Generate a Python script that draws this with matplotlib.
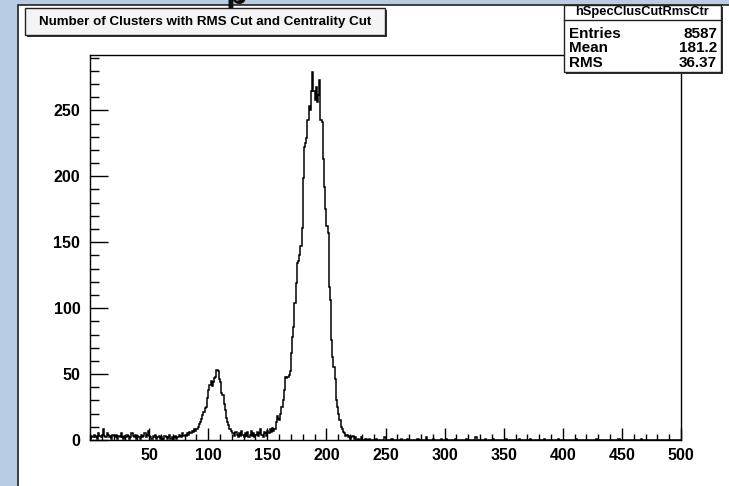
import numpy as np
import matplotlib.pyplot as plt
from matplotlib.patches import Rectangle

plt.rcParams['font.family'] = ['Liberation Sans', 'DejaVu Sans']

# counts per unit bin, bins 0..224
counts_low = [
    1, 3, 2, 4, 2, 3, 1, 5, 3, 2,
    4, 8, 3, 2, 5, 4, 2, 3, 1, 4,
    3, 2, 4, 1, 3, 2, 5, 2, 1, 3,
    2, 4, 3, 1, 2, 5, 3, 2, 4, 1,
    3, 2, 1, 4, 2, 3, 5, 2, 4, 7,
    3, 2, 1, 3, 2, 4, 1, 2, 3, 1,
    2, 0, 1, 3, 2, 1, 2, 4, 1, 2,
    1, 2, 3, 1, 2, 4, 3, 2, 5, 3,
    4, 3, 5, 4, 6, 5, 7, 6, 8, 7,
    8, 10, 12, 14, 16, 19, 21, 24, 25, 32,
    38, 42, 45, 41, 44, 47, 48, 53, 52, 46,
    44, 36, 34, 27, 23, 17, 14, 11, 8, 7,
    5, 5, 3, 6, 4, 2, 5, 3, 7, 4,
    2, 5, 3, 6, 2, 4, 7, 3, 5, 2,
    4, 6, 3, 5, 8, 4, 2, 6, 5, 3,
    7, 5, 8, 6, 9, 7, 8, 14, 18, 16,
    15, 20, 25, 30, 38, 48, 47, 48, 49, 52,
    66, 78, 86, 104, 119, 134, 136, 140, 147, 161,
    199, 222, 225, 229, 243, 253, 250, 265, 279, 265,
    258, 268, 256, 262, 273, 243, 241, 213, 192, 175,
    162, 157, 116, 106, 76, 63, 55, 46, 30, 25,
    20, 15, 10, 8, 6, 5, 3, 4, 2, 3,
    1, 2, 3, 1, 2,
]
# sparse tail, bin -> count
counts_tail = {227: 1, 229: 2, 233: 1, 236: 1, 242: 1, 249: 2, 255: 1, 263: 1,
               268: 1, 277: 1, 284: 2, 290: 1, 297: 1, 301: 1, 309: 1, 318: 1,
               326: 2, 334: 1, 341: 1, 352: 1, 363: 1, 372: 1, 384: 1, 396: 1,
               411: 1, 428: 1, 447: 1, 466: 1}

title = "Number of Clusters with RMS Cut and Centrality Cut"
stat_name = "hSpecClusCutRmsCtr"
stat_labels = ["Entries", "Mean", "RMS"]
stat_values = ["8587", "181.2", "36.37"]

counts = np.zeros(500)
counts[:len(counts_low)] = counts_low
for b, c in counts_tail.items():
    counts[b] = c
edges = np.arange(0, 501)

W, H = 729, 486
fig = plt.figure(figsize=(W / 100, H / 100), dpi=100)
fig.patch.set_facecolor('#b8cce4')

def fx(px):
    return px / W

def fy(py):
    return 1 - py / H

# white canvas behind everything
fig.patches.append(Rectangle((fx(18), -0.01), 1.01 - fx(18), fy(5) + 0.01,
                             transform=fig.transFigure, facecolor='white',
                             edgecolor='#222222', lw=1.2, zorder=-5))
# bottom of a letter from the page above, cut by the top edge
fig.text(fx(226), fy(4), 'p', fontsize=26, fontweight='bold', va='baseline',
         color='#111111', zorder=-4)

ax = fig.add_axes([fx(90), fy(440), fx(681) - fx(90), fy(55) - fy(440)])
ax.set_facecolor('white')
ax.stairs(counts, edges, color='black', lw=1.1)
ax.set_xlim(0, 500)
ax.set_ylim(0, 292)
ax.set_xticks(np.arange(50, 501, 50))
ax.set_xticks(np.arange(0, 501, 10), minor=True)
ax.set_yticks(np.arange(0, 251, 50))
ax.set_yticks(np.arange(0, 292, 10), minor=True)
ax.tick_params(axis='x', which='major', direction='in', length=8.5, width=1, pad=6)
ax.tick_params(axis='x', which='minor', direction='in', length=4.3, width=1)
ax.tick_params(axis='y', which='major', direction='in', length=12.8, width=1, pad=7)
ax.tick_params(axis='y', which='minor', direction='in', length=6.4, width=1)
for lab in ax.get_xticklabels() + ax.get_yticklabels():
    lab.set_fontweight('bold')
    lab.set_fontsize(11.5)
for s in ax.spines.values():
    s.set_linewidth(1)

def box(x0, y0, x1, y1, fc):
    fig.patches.append(Rectangle((fx(x0 + 2), fy(y1 + 2)), fx(x1) - fx(x0), fy(y0) - fy(y1),
                                 transform=fig.transFigure, facecolor='#333333',
                                 edgecolor='none', zorder=3))
    fig.patches.append(Rectangle((fx(x0), fy(y1)), fx(x1) - fx(x0), fy(y0) - fy(y1),
                                 transform=fig.transFigure, facecolor=fc,
                                 edgecolor='#222222', lw=1, zorder=4))

box(25, 8, 385, 35, '#f4f4f4')
fig.text(fx(205), fy(21.5), title, ha='center', va='center', fontsize=9.6,
         fontweight='bold', zorder=5)

box(564, 5, 721, 72, 'white')
fig.add_artist(plt.Line2D([fx(564), fx(721)], [fy(20), fy(20)], color='#222222', lw=1,
                          zorder=5))
fig.text(fx(642.5), fy(12.5), stat_name, ha='center', va='center', fontsize=9.3,
         fontweight='bold', zorder=5)
for i, (lab, val) in enumerate(zip(stat_labels, stat_values)):
    y = fy(34 + i * 14.5)
    fig.text(fx(569), y, lab, ha='left', va='center', fontsize=11, fontweight='bold', zorder=5)
    fig.text(fx(717), y, val, ha='right', va='center', fontsize=11, fontweight='bold', zorder=5)

fig.savefig('out.png', dpi=100)
